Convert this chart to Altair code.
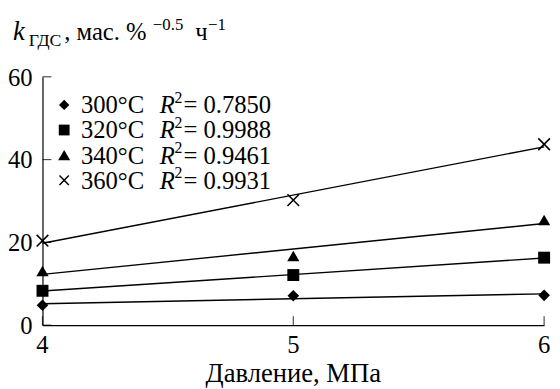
import altair as alt
import pandas as pd

# ---- data ----
pressure = [4, 5, 6]
series_names = ["300°C", "320°C", "340°C", "360°C"]
k_300 = [4.8, 7.1, 7.2]
k_320 = [8.3, 12.1, 16.3]
k_340 = [13.1, 16.7, 25.4]
k_360 = [20.4, 30.2, 43.7]
r2_labels = ["0.7850", "0.9988", "0.9461", "0.9931"]
x_ticks = [4, 5, 6]
y_ticks = [0, 20, 40, 60]
x_title = "Давление, МПа"

values = [k_300, k_320, k_340, k_360]
rows = []
for name, vals in zip(series_names, values):
    for p, v in zip(pressure, vals):
        rows.append({"p": p, "k": v, "s": name})
df = pd.DataFrame(rows)

FONT = "Liberation Serif"
FS = 25
X_PATH = "M-1,-1L1,1M-1,1L1,-1"
shape_range = ["diamond", "square", "triangle-up", X_PATH]
size_range = [140, 160, 190, 150]

xs = alt.Scale(domain=[4, 6], nice=False, zero=False)
ys = alt.Scale(domain=[0, 60], nice=False)

X_AX = alt.Axis(values=x_ticks, title=None, labels=False, ticks=False, grid=False,
                domainColor="black", domainWidth=1.2)
Y_AX = alt.Axis(values=y_ticks, title=None, labels=False, ticks=False, grid=False,
                domainColor="black", domainWidth=1.2)

def X(field):
    return alt.X(field, scale=xs, axis=X_AX, title=None)

def Y(field):
    return alt.Y(field, scale=ys, axis=Y_AX, title=None)

base = alt.Chart(df)

lines = base.transform_regression("p", "k", groupby=["s"], extent=[4, 6]).mark_line(
    color="black", strokeWidth=1.4
).encode(x=X("p:Q"), y=Y("k:Q"), detail="s:N")

filled_pts = base.transform_filter(alt.datum.s != "360°C").mark_point(
    filled=True, color="black", opacity=1
).encode(
    x=X("p:Q"),
    y=Y("k:Q"),
    shape=alt.Shape("s:N", scale=alt.Scale(domain=series_names, range=shape_range), legend=None),
    size=alt.Size("s:N", scale=alt.Scale(domain=series_names, range=size_range), legend=None),
)

cross_pts = base.transform_filter(alt.datum.s == "360°C").mark_point(
    shape=X_PATH, filled=False, color="black", strokeWidth=1.6, size=140, opacity=1
).encode(x=X("p:Q"), y=Y("k:Q"))

# inward axis ticks and tick labels
ytick_df = pd.DataFrame({"k": y_ticks, "p": [4] * len(y_ticks)})
ytick = alt.Chart(ytick_df).mark_tick(orient="horizontal", size=9, xOffset=4.5, color="black", thickness=1.2).encode(
    x=X("p:Q"), y=Y("k:Q")
)
ylab = alt.Chart(ytick_df).mark_text(font=FONT, fontSize=FS, align="right", baseline="middle", dx=-10, dy=1, color="black").encode(
    x=X("p:Q"), y=Y("k:Q"), text=alt.Text("k:Q", format="d")
)
xtick_df = pd.DataFrame({"p": x_ticks, "k": [0] * len(x_ticks)})
xtick = alt.Chart(xtick_df).mark_tick(orient="vertical", size=9, yOffset=-4.5, color="black", thickness=1.2).encode(
    x=X("p:Q"), y=Y("k:Q")
)
xlab = alt.Chart(xtick_df).mark_text(font=FONT, fontSize=FS, align="center", baseline="middle", dy=20, color="black").encode(
    x=X("p:Q"), y=Y("k:Q"), text=alt.Text("p:Q", format="d")
)

layers = [lines, filled_pts, cross_pts, ytick, xtick, ylab, xlab]

def txt(s, x, y, size=FS, style="normal", align="left"):
    return alt.Chart(pd.DataFrame({"t": [s]})).mark_text(
        font=FONT, fontSize=size, fontStyle=style, align=align, baseline="alphabetic", color="black"
    ).encode(text="t:N", x=alt.value(x), y=alt.value(y))

# x-axis title
layers.append(txt(x_title, 254.5, 309.5, size=27, align="center"))

# legend
for i, (name, r2) in enumerate(zip(series_names, r2_labels)):
    yc = 28.5 + 25.5 * i
    sym = alt.Chart(pd.DataFrame({"s": [name]})).mark_point(
        filled=(i < 3), color="black", opacity=1, strokeWidth=1.5,
        shape=shape_range[i], size=[110, 120, 150, 90][i]
    ).encode(x=alt.value(22), y=alt.value(yc))
    layers.append(sym)
    layers.append(txt(name, 39, yc + 8.5))
    layers.append(txt("R", 119, yc + 8.5, style="italic"))
    layers.append(txt("2", 134, yc - 2, size=16))
    layers.append(txt("= " + r2, 143, yc + 8.5))

# y-axis title
layers.append(txt("k", -30, -37.7, style="italic", size=27))
layers.append(txt("ГДС", -14, -31.7, size=18))
layers.append(txt(", мас. %", 22, -37.7))
layers.append(txt("−0.5", 112, -47.7, size=17))
layers.append(txt("ч", 155, -37.7))
layers.append(txt("−1", 168, -47.7, size=17))

chart = alt.layer(*layers).properties(
    width=509, height=252,
    autosize=alt.AutoSizeParams(type="none"),
    padding={"left": 35, "top": 67, "right": 8, "bottom": 62},
).configure_view(stroke=None)

chart.save("out.html", embed_options={"renderer": "svg", "actions": False})
